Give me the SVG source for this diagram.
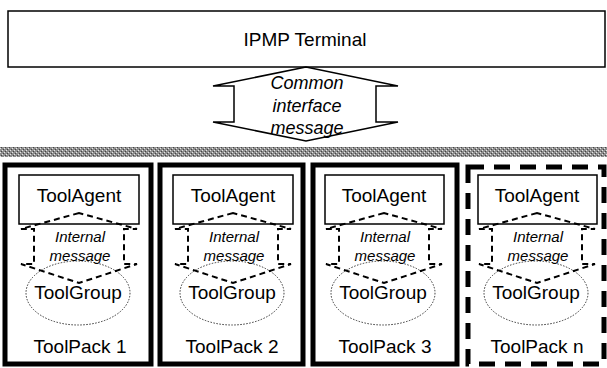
<svg xmlns="http://www.w3.org/2000/svg" width="607" height="368" viewBox="0 0 607 368">
<defs>
<pattern id="dither" width="4" height="4" patternUnits="userSpaceOnUse">
<rect width="4" height="4" fill="#8e8e8e"/>
<rect x="0" y="0" width="1" height="1" fill="#e6e6e6"/>
<rect x="2" y="2" width="1" height="1" fill="#e6e6e6"/>
<rect x="1" y="3" width="1" height="1" fill="#444"/>
<rect x="3" y="1" width="1" height="1" fill="#444"/>
</pattern>
</defs>
<style>
.t{font-family:"Liberation Sans",Arial,sans-serif;fill:#000;text-anchor:middle}
.big{font-size:19px}
.it{font-style:italic}
.pack{fill:#fff;stroke:#000;stroke-width:5}
.packn{fill:#fff;stroke:#000;stroke-width:5;stroke-dasharray:16 10}
.agent{fill:#fff;stroke:#000;stroke-width:1.5}
.msg{fill:none;stroke:#000;stroke-width:2;stroke-dasharray:6 4}
.grp{fill:none;stroke:#333;stroke-width:1;stroke-dasharray:1.5 1.5}
</style>
<rect width="607" height="368" fill="#fff"/>

<g id="terminal">
<rect x="8" y="11" width="597" height="56" fill="#fff" stroke="#000" stroke-width="1.5"/>
<text class="t big" x="305" y="46">IPMP Terminal</text>
</g>

<g id="bus">
<rect x="0" y="147" width="607" height="10" fill="url(#dither)"/>
</g>

<g id="connectors">
<g id="common-msg">
<polygon points="306,67 213,86 234,86 234,122 213,122 306,141 398,122 376,122 376,86 398,86" fill="#fff" stroke="#000" stroke-width="1.5"/>
<text class="t it" font-size="18" x="307" y="89">Common</text>
<text class="t it" font-size="18" x="307" y="112">interface</text>
<text class="t it" font-size="18" x="307" y="134">message</text>
</g>
</g>

<g id="toolpack1">
<rect class="pack" x="5" y="165" width="146" height="199"/>
<g id="agent1"><rect class="agent" x="19" y="175" width="120" height="49"/><text class="t big" x="79" y="202">ToolAgent</text></g>
<g id="group1"><ellipse class="grp" cx="78" cy="293" rx="52" ry="32"/><text class="t big" x="78" y="299">ToolGroup</text></g>
<g id="msg1"><polygon class="msg" points="79,213 21,229 34,229 34,264 21,264 79,283 137,264 124,264 124,229 137,229"/>
<text class="t it" font-size="15" x="80" y="242">Internal</text><text class="t it" font-size="15" x="80" y="261">message</text></g>
<text class="t big" x="80" y="353">ToolPack 1</text>
</g>

<g id="toolpack2">
<rect class="pack" x="160" y="165" width="143" height="199"/>
<g id="agent2"><rect class="agent" x="173" y="175" width="120" height="49"/><text class="t big" x="233" y="202">ToolAgent</text></g>
<g id="group2"><ellipse class="grp" cx="232" cy="293" rx="52" ry="32"/><text class="t big" x="232" y="299">ToolGroup</text></g>
<g id="msg2"><polygon class="msg" points="233,213 175,229 188,229 188,264 175,264 233,283 291,264 278,264 278,229 291,229"/>
<text class="t it" font-size="15" x="234" y="242">Internal</text><text class="t it" font-size="15" x="234" y="261">message</text></g>
<text class="t big" x="232" y="353">ToolPack 2</text>
</g>

<g id="toolpack3">
<rect class="pack" x="313" y="165" width="144" height="199"/>
<g id="agent3"><rect class="agent" x="325" y="175" width="119" height="49"/><text class="t big" x="384" y="202">ToolAgent</text></g>
<g id="group3"><ellipse class="grp" cx="383" cy="293" rx="52" ry="32"/><text class="t big" x="383" y="299">ToolGroup</text></g>
<g id="msg3"><polygon class="msg" points="384,213 326,229 339,229 339,264 326,264 384,283 442,264 429,264 429,229 442,229"/>
<text class="t it" font-size="15" x="385" y="242">Internal</text><text class="t it" font-size="15" x="385" y="261">message</text></g>
<text class="t big" x="385" y="353">ToolPack 3</text>
</g>

<g id="toolpackn">
<rect class="packn" x="468" y="167" width="136" height="197"/>
<g id="agentn"><rect class="agent" x="478" y="175" width="119" height="49"/><text class="t big" x="537" y="202">ToolAgent</text></g>
<g id="groupn"><ellipse class="grp" cx="536" cy="293" rx="52" ry="32"/><text class="t big" x="536" y="299">ToolGroup</text></g>
<g id="msgn"><polygon class="msg" points="537,213 479,229 492,229 492,264 479,264 537,283 595,264 582,264 582,229 595,229"/>
<text class="t it" font-size="15" x="538" y="242">Internal</text><text class="t it" font-size="15" x="538" y="261">message</text></g>
<text class="t big" x="537" y="353">ToolPack n</text>
</g>
</svg>
